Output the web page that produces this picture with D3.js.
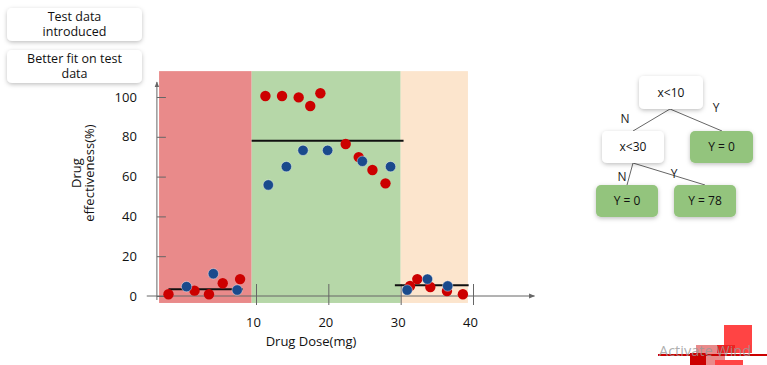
<!DOCTYPE html>
<meta charset="utf-8">
<style>
body { margin: 0; background: #fff; }
* { font-family: "Open Sans", sans-serif; }
</style>
<body>
<script src="https://cdn.jsdelivr.net/npm/d3@7"></script>
<script>

// data
var trainDose = [-2.1, 1.5, 3.5, 5.4, 7.8, 11.3, 13.6, 15.9, 17.5, 18.9, 22.4, 24.2, 26.1, 27.9, 31.3, 32.3, 34.1, 36.4, 38.6];
var trainEff  = [0.9, 2.7, 0.9, 6.4, 8.5, 100.5, 100.5, 99.8, 95.5, 101.9, 76.4, 69.8, 63.3, 56.6, 5.0, 8.5, 4.5, 2.5, 0.9];
var testDose  = [0.4, 4.1, 7.4, 11.7, 14.2, 16.5, 19.9, 24.7, 28.6, 30.9, 33.7, 36.5];
var testEff   = [4.7, 11.2, 3.0, 55.8, 65.0, 73.2, 73.2, 67.7, 65.0, 3.0, 8.5, 5.0];
var regionFrom = [-3.4, 9.4, 30];
var regionTo   = [9.4, 30, 39.3];
var regionColor = ["#e98a8a", "#b6d7a8", "#fce5cd"];
var fitFrom = [-2.1, 9.4, 29.2];
var fitTo   = [8.2, 30.4, 39.4];
var fitVal  = [3.4, 78, 5.4];
var xTicks = [10, 20, 30, 40];
var yTicks = [0, 20, 40, 60, 80, 100];

var width = 767, height = 365;

var x = d3.scaleLinear().domain([10, 40]).range([256, 473]);
var y = d3.scaleLinear().domain([0, 100]).range([296, 97]);

var svg = d3.select("body").append("svg")
    .attr("width", width)
    .attr("height", height);

var defs = svg.append("defs");
defs.append("marker")
    .attr("id", "arrow")
    .attr("viewBox", "0 0 10 10")
    .attr("refX", 9).attr("refY", 5)
    .attr("markerWidth", 6).attr("markerHeight", 6)
    .attr("orient", "auto")
  .append("path")
    .attr("d", "M0,1L10,5L0,9Z")
    .attr("fill", "#666");
var f = defs.append("filter").attr("id", "shadow")
    .attr("x", "-20%").attr("y", "-20%").attr("width", "140%").attr("height", "150%");
f.append("feDropShadow").attr("dx", 0).attr("dy", 1.5).attr("stdDeviation", 2)
    .attr("flood-color", "#000").attr("flood-opacity", 0.25);

// background regions
svg.selectAll(".region")
    .data(regionFrom)
  .enter().append("rect")
    .attr("x", function(d) { return x(d); })
    .attr("y", y(113))
    .attr("width", function(d, i) { return x(regionTo[i]) - x(d); })
    .attr("height", y(-3.5) - y(113))
    .attr("fill", function(d, i) { return regionColor[i]; });

// axes
svg.append("line")
    .attr("x1", x(-5.1)).attr("x2", x(48.5))
    .attr("y1", y(0)).attr("y2", y(0))
    .attr("stroke", "#666").attr("stroke-width", 1)
    .attr("marker-end", "url(#arrow)");
svg.append("line")
    .attr("x1", x(-3.7)).attr("x2", x(-3.7))
    .attr("y1", y(-2)).attr("y2", y(107.5))
    .attr("stroke", "#666").attr("stroke-width", 1)
    .attr("marker-end", "url(#arrow)");

var xAxis = svg.append("g")
    .attr("transform", "translate(0," + y(0) + ")")
    .call(d3.axisBottom(x).tickValues(xTicks).tickSize(9).tickPadding(13));
xAxis.select(".domain").remove();
xAxis.selectAll(".tick line").attr("y1", -12).attr("stroke", "#666");
xAxis.selectAll(".tick text")
    .attr("font-size", 13).attr("fill", "#111")
    .attr("font-family", "Open Sans")
    .attr("dx", -3);

var yAxis = svg.append("g")
    .attr("transform", "translate(" + x(-3.7) + ",0)")
    .call(d3.axisLeft(y).tickValues(yTicks).tickSize(10).tickPadding(10));
yAxis.select(".domain").remove();
yAxis.selectAll(".tick line").attr("x2", 9).attr("stroke", "#666");
yAxis.selectAll(".tick text")
    .attr("font-size", 13).attr("fill", "#111")
    .attr("font-family", "Open Sans");

// fitted lines
svg.selectAll(".fit")
    .data(fitVal)
  .enter().append("line")
    .attr("x1", function(d, i) { return x(fitFrom[i]); })
    .attr("x2", function(d, i) { return x(fitTo[i]); })
    .attr("y1", function(d) { return y(d); })
    .attr("y2", function(d) { return y(d); })
    .attr("stroke", "#111").attr("stroke-width", 2);

// points
svg.selectAll(".train")
    .data(trainDose)
  .enter().append("circle")
    .attr("cx", function(d) { return x(d); })
    .attr("cy", function(d, i) { return y(trainEff[i]); })
    .attr("r", 5.2)
    .attr("fill", "#cc0000");
svg.selectAll(".test")
    .data(testDose)
  .enter().append("circle")
    .attr("cx", function(d) { return x(d); })
    .attr("cy", function(d, i) { return y(testEff[i]); })
    .attr("r", 5.2)
    .attr("fill", "#1a4a8c")
    .attr("stroke", "rgba(255,255,255,0.5)").attr("stroke-width", 0.8);

// axis titles
svg.append("text")
    .attr("x", 311).attr("y", 346)
    .attr("text-anchor", "middle")
    .attr("font-size", 13).attr("fill", "#111")
    .text("Drug Dose(mg)");
var yt = svg.append("text")
    .attr("transform", "translate(83,173)rotate(-90)")
    .attr("text-anchor", "middle")
    .attr("font-size", 13).attr("fill", "#111");
yt.append("tspan").attr("x", 0).attr("dy", -2).text("Drug");
yt.append("tspan").attr("x", 0).attr("dy", 13).text("effectiveness(%)");

// rounded boxes with centred text
function box(x0, y0, w, h, fill, lines, fs) {
  svg.append("rect")
      .attr("x", x0).attr("y", y0).attr("width", w).attr("height", h)
      .attr("rx", 5).attr("fill", fill)
      .attr("filter", "url(#shadow)");
  var t = svg.append("text")
      .attr("text-anchor", "middle")
      .attr("font-size", fs).attr("fill", "#111");
  var lh = 15;
  var top = y0 + h / 2 - (lines.length - 1) * lh / 2 + fs * 0.35;
  lines.forEach(function(l, i) {
    t.append("tspan").attr("x", x0 + w / 2).attr("y", top + i * lh).text(l);
  });
}
box(7, 8, 135, 33, "#fff", ["Test data", "introduced"], 12.5);
box(7, 50, 135, 33, "#fff", ["Better fit on test", "data"], 12.5);

// decision tree
var link = function(x1, y1, x2, y2) {
  svg.append("line")
      .attr("x1", x1).attr("y1", y1).attr("x2", x2).attr("y2", y2)
      .attr("stroke", "#666").attr("stroke-width", 1);
};
link(670, 109, 633, 131);
link(670, 109, 722, 131);
link(633, 163, 627, 185);
link(633, 163, 705, 185);
box(639, 76, 64, 33, "#fff", ["x<10"], 12);
box(602, 131, 62, 32, "#fff", ["x<30"], 12);
box(690, 131, 63, 32, "#93c47d", ["Y = 0"], 12);
box(596, 185, 62, 32, "#93c47d", ["Y = 0"], 12);
box(674, 185, 62, 32, "#93c47d", ["Y = 78"], 12);
[["N", 625, 123], ["Y", 716, 112], ["N", 622, 181], ["Y", 674, 178]].forEach(function(d) {
  svg.append("text").attr("x", d[1]).attr("y", d[2])
      .attr("text-anchor", "middle").attr("font-size", 12).attr("fill", "#222")
      .text(d[0]);
});

// watermark corner
var wm = svg.append("g");
wm.append("rect").attr("x", 696).attr("y", 345).attr("width", 29).attr("height", 20).attr("fill", "#e98a8a");
wm.append("rect").attr("x", 724).attr("y", 325).attr("width", 28).attr("height", 28).attr("fill", "#f44");
wm.append("rect").attr("x", 717).attr("y", 345).attr("width", 18).attr("height", 8).attr("fill", "#e22");
wm.append("rect").attr("x", 715).attr("y", 360).attr("width", 28).attr("height", 5).attr("fill", "#f44");
wm.append("rect").attr("x", 658).attr("y", 354).attr("width", 109).attr("height", 2).attr("fill", "#cc0000");
wm.append("rect").attr("x", 690).attr("y", 353).attr("width", 16).attr("height", 12).attr("fill", "#c00");
wm.append("text").attr("x", 659).attr("y", 356)
    .attr("font-size", 14.5).attr("fill", "#999").attr("fill-opacity", 0.8)
    .text("Activate Wind");
</script>
</body>
